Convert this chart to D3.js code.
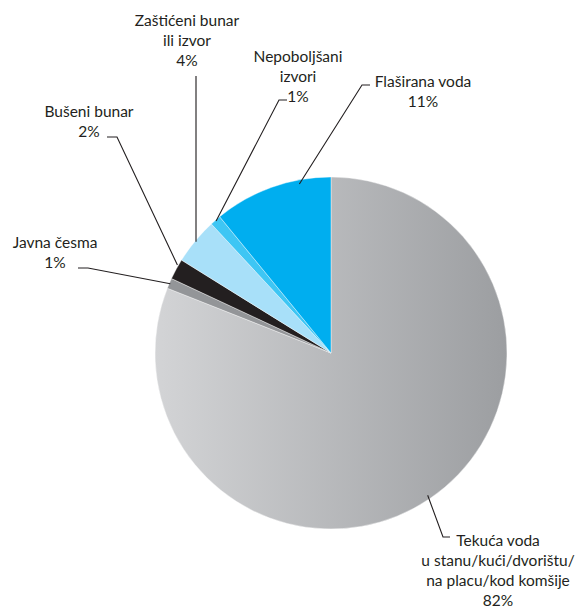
<!DOCTYPE html>
<html>
<head>
<meta charset="utf-8">
<script src="https://cdn.jsdelivr.net/npm/d3@7"></script>
<style>
  html, body { margin: 0; padding: 0; background: #ffffff; }
  svg { display: block; }
  text { font-family: Lato, "Open Sans", sans-serif; fill: #231f20; }
</style>
</head>
<body>
<svg id="chart" width="576" height="610"></svg>
<script>
// ---- data ----
const categories = [
  "Tekuća voda u stanu/kući/dvorištu/ na placu/kod komšije",
  "Javna česma",
  "Bušeni bunar",
  "Zaštićeni bunar ili izvor",
  "Nepoboljšani izvori",
  "Flaširana voda"
];
const values = [81.0, 0.95, 1.9, 4.25, 1.0, 10.9];
const percentLabels = ["82%", "1%", "2%", "4%", "1%", "11%"];
const labelLines = [
  ["Tekuća voda", "u stanu/kući/dvorištu/", "na placu/kod komšije"],
  ["Javna česma"],
  ["Bušeni bunar"],
  ["Zaštićeni bunar", "ili izvor"],
  ["Nepoboljšani", "izvori"],
  ["Flaširana voda"]
];

// ---- styling / layout ----
const colors = ["url(#grayGrad)", "#939598", "#231f20", "#a8e0f9", "#3ec6f4", "#00aeef"];
const cx = 331, cy = 353, R = 176;
const lineH = 20;
// label block: center x, first-line center y
const labelPos = [
  {x: 498, y: 541},
  {x: 55, y: 243},
  {x: 89, y: 112},
  {x: 187, y: 21},
  {x: 298, y: 57},
  {x: 423, y: 82}
];
// leader: fraction within slice, radius offset, then elbow points toward label
const leaders = [
  {f: 0.5, dr: -4, pts: [[443, 537], [450, 537]]},
  {f: 0.5, dr: -1, pts: [[88, 268], [78, 268]]},
  {f: 0.7, dr: 1, pts: [[117, 137], [107, 137]]},
  {f: 0.5, dr: -1, pts: [[196, 76]]},
  {f: 0.5, dr: -1, pts: [[279, 100], [287, 100]]},
  {f: 0.73, dr: -4, pts: [[362, 85], [370, 85]]}
];

const svg = d3.select("#chart");
const defs = svg.append("defs");
const grad = defs.append("linearGradient")
  .attr("id", "grayGrad")
  .attr("gradientUnits", "userSpaceOnUse")
  .attr("x1", -R).attr("y1", 0)
  .attr("x2", R).attr("y2", 0);
grad.append("stop").attr("offset", "0%").attr("stop-color", "#d3d4d6");
grad.append("stop").attr("offset", "100%").attr("stop-color", "#9c9ea1");

const pie = d3.pie().sort(null).value(d => d)(values);
const arc = d3.arc().innerRadius(0).outerRadius(R);

const g = svg.append("g").attr("transform", `translate(${cx},${cy})`);
g.selectAll("path.slice")
  .data(pie)
  .join("path")
  .attr("class", "slice")
  .attr("d", arc)
  .attr("fill", (d, i) => colors[i])
  .attr("stroke", "#ffffff")
  .attr("stroke-width", 0.4);

// leaders
const lineGen = d3.line();
pie.forEach((d, i) => {
  const L = leaders[i];
  const a = d.startAngle + (d.endAngle - d.startAngle) * L.f;
  const r = R + L.dr;
  const start = [cx + r * Math.sin(a), cy - r * Math.cos(a)];
  svg.append("path")
    .attr("d", lineGen([start, ...L.pts]))
    .attr("fill", "none")
    .attr("stroke", "#231f20")
    .attr("stroke-width", 1.1);
});

// labels
categories.forEach((c, i) => {
  const lines = [...labelLines[i], percentLabels[i]];
  const t = svg.append("text")
    .attr("text-anchor", "middle")
    .attr("font-size", 15.5);
  lines.forEach((ln, k) => {
    t.append("tspan")
      .attr("x", labelPos[i].x)
      .attr("y", labelPos[i].y + k * lineH)
      .attr("dy", "0.35em")
      .text(ln);
  });
});
</script>
</body>
</html>
